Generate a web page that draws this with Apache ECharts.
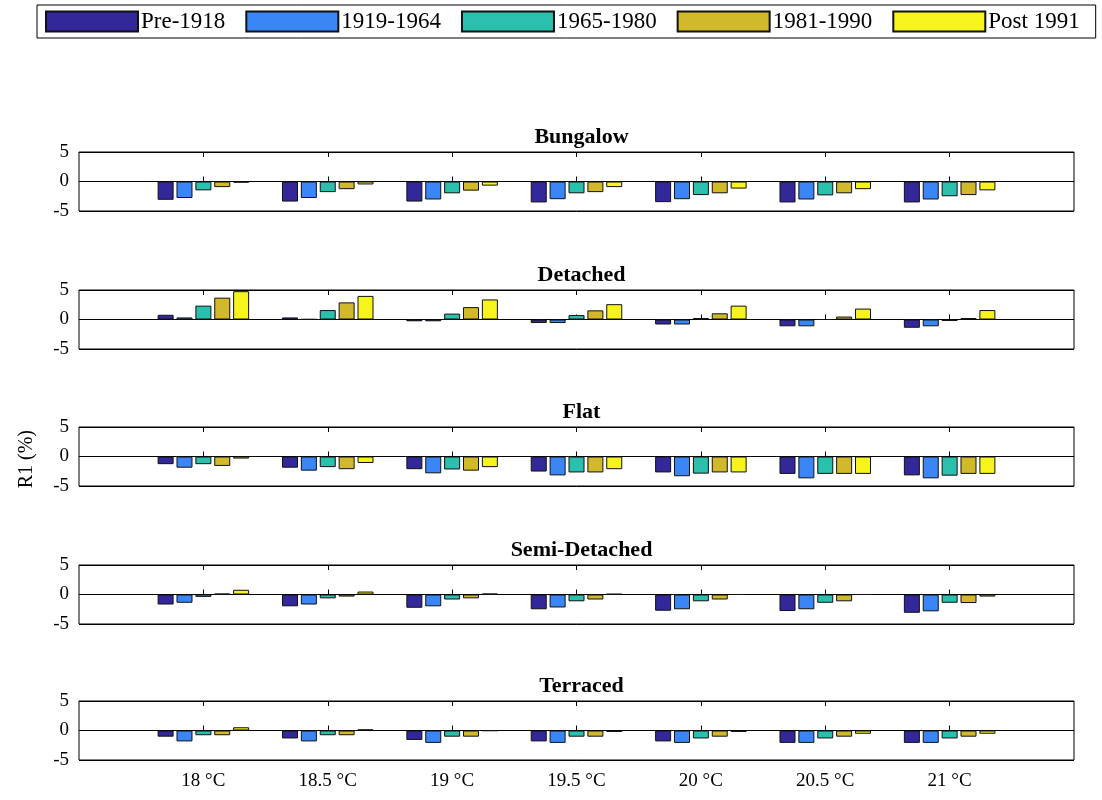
<!DOCTYPE html>
<html>
<head>
<meta charset="utf-8">
<script src="https://cdn.jsdelivr.net/npm/echarts@6/dist/echarts.min.js"></script>
<style>html,body{margin:0;padding:0;background:#fff;}#c{width:1102px;height:800px;}</style>
</head>
<body>
<div id="c"></div>
<script>
// Categories (x ticks) and series names
const tickLabels = ['18 °C', '18.5 °C', '19 °C', '19.5 °C', '20 °C', '20.5 °C', '21 °C'];
const ageBands = ['Pre-1918', '1919-1964', '1965-1980', '1981-1990', 'Post 1991'];
const panelTitles = ['Bungalow', 'Detached', 'Flat', 'Semi-Detached', 'Terraced'];
const yTicks = [-5, 0, 5];

// R1 (%) values: rows = age bands, columns = temperatures
const bungalow = [
  [-3.1, -3.4, -3.4, -3.55, -3.5, -3.55, -3.55],
  [-2.8, -2.8, -3.05, -3.0, -3.0, -3.05, -3.05],
  [-1.5, -1.8, -2.0, -2.0, -2.3, -2.35, -2.5],
  [-0.95, -1.3, -1.55, -1.8, -2.0, -2.0, -2.3],
  [-0.2, -0.5, -0.7, -0.95, -1.2, -1.3, -1.5]
];
const detached = [
  [0.8, 0.35, -0.3, -0.6, -0.85, -1.15, -1.4],
  [0.35, 0.05, -0.3, -0.6, -0.85, -1.15, -1.15],
  [2.35, 1.6, 1.0, 0.75, 0.25, 0.0, -0.25],
  [3.7, 2.9, 2.1, 1.55, 1.05, 0.5, 0.25],
  [4.8, 4.0, 3.4, 2.6, 2.35, 1.85, 1.6]
];
const flat = [
  [-1.3, -1.9, -2.15, -2.55, -2.7, -2.95, -3.2],
  [-1.9, -2.4, -2.85, -3.2, -3.35, -3.7, -3.7],
  [-1.3, -1.8, -2.2, -2.7, -2.9, -2.95, -3.25],
  [-1.6, -2.15, -2.4, -2.7, -2.7, -2.95, -2.95],
  [-0.35, -1.1, -1.8, -2.15, -2.7, -2.95, -2.95]
];
const semiDetached = [
  [-1.7, -2.0, -2.25, -2.5, -2.75, -2.8, -3.1],
  [-1.4, -1.7, -2.0, -2.2, -2.5, -2.5, -2.85],
  [-0.4, -0.65, -0.85, -1.15, -1.15, -1.4, -1.4],
  [0.15, -0.35, -0.65, -0.85, -0.85, -1.15, -1.45],
  [0.8, 0.5, 0.15, 0.1, 0.0, 0.0, -0.35]
];
const terraced = [
  [-1.05, -1.35, -1.6, -1.85, -1.85, -2.1, -2.1],
  [-1.85, -1.85, -2.1, -2.1, -2.1, -2.1, -2.1],
  [-0.8, -0.8, -1.05, -1.05, -1.35, -1.35, -1.35],
  [-0.8, -0.8, -1.05, -1.05, -1.05, -1.05, -1.05],
  [0.55, 0.2, -0.05, -0.25, -0.25, -0.55, -0.55]
];
const panelData = [bungalow, detached, flat, semiDetached, terraced];

const colors = ['#33289a', '#3b86f6', '#2bbfae', '#d2b92c', '#f7f31c'];
const FONT = '"Liberation Serif", "DejaVu Serif", serif';

const chart = echarts.init(document.getElementById('c'), null, {renderer: 'canvas'});

const plotTops = [152, 290, 427, 565, 701];
const plotH = 59;
const plotLeft = 79, plotRight = 28;

// padded category list: empty slot before and after so spacing matches reference
const cats = [''].concat(tickLabels, ['']);
const tickShow = (idx) => idx >= 1 && idx <= tickLabels.length;

const grids = [], xAxes = [], yAxes = [], series = [], titles = [];
panelData.forEach((rows, p) => {
  grids.push({left: plotLeft, right: plotRight, top: plotTops[p], height: plotH,
    show: true, borderColor: '#000', borderWidth: 1, backgroundColor: '#fff'});
  const isLast = p === panelData.length - 1;
  xAxes.push({type: 'category', gridIndex: p, data: cats, boundaryGap: false, position: 'bottom',
    axisLine: {show: false},
    axisTick: {show: true, inside: true, length: 5, interval: (i) => tickShow(i), lineStyle: {color: '#000'}},
    axisLabel: {show: isLast, interval: 0, color: '#000', fontFamily: FONT, fontSize: 19, margin: 12},
    splitLine: {show: false}});
  xAxes.push({type: 'category', gridIndex: p, data: cats, boundaryGap: false, position: 'top',
    axisLine: {show: false},
    axisTick: {show: true, inside: true, length: 5, interval: (i) => tickShow(i), lineStyle: {color: '#000'}},
    axisLabel: {show: false}, splitLine: {show: false}});
  yAxes.push({type: 'value', gridIndex: p, min: yTicks[0], max: yTicks[yTicks.length - 1], interval: 5,
    axisLine: {show: false}, axisTick: {show: false},
    axisLabel: {color: '#000', fontFamily: FONT, fontSize: 19, margin: 10},
    splitLine: {show: true, lineStyle: {color: '#000', width: 1}}});
  titles.push({text: panelTitles[p], left: (plotLeft + (1102 - plotRight)) / 2, top: plotTops[p] - 31,
    textAlign: 'center',
    textStyle: {fontFamily: FONT, fontWeight: 'bold', fontSize: 22, color: '#000'}});
  rows.forEach((vals, s) => {
    series.push({type: 'bar', name: ageBands[s], xAxisIndex: p * 2, yAxisIndex: p,
      data: ['-'].concat(vals, ['-']),
      barWidth: 16, barGap: '18%',
      itemStyle: {color: colors[s], borderColor: '#111', borderWidth: 1},
      emphasis: {disabled: true}, animation: false});
  });
});

chart.setOption({
  animation: false,
  color: colors,
  title: titles,
  legend: {show: true, data: ageBands, left: 37, top: 5, orient: 'horizontal',
    itemWidth: 92, itemHeight: 20, itemGap: 20,
    borderColor: '#000', borderWidth: 1, padding: [5, 16, 5, 8],
    textStyle: {fontFamily: FONT, fontSize: 23, color: '#000', padding: [0, 0, 0, -2]},
    icon: 'rect'},
  grid: grids,
  xAxis: xAxes,
  yAxis: yAxes,
  series: series,
  graphic: [{type: 'text', left: 17, top: 430, rotation: Math.PI / 2,
    style: {text: 'R1 (%)', font: '20px ' + FONT, fill: '#000'}}]
});
</script>
</body>
</html>
